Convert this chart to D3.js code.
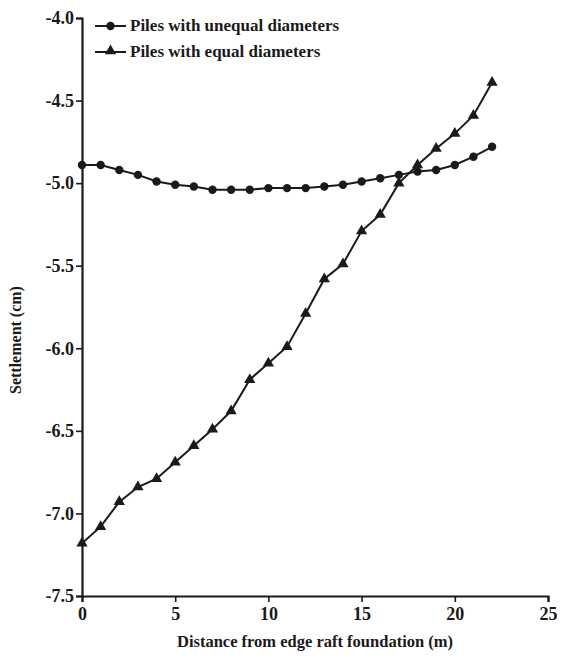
<!DOCTYPE html>
<html>
<head>
<meta charset="utf-8">
<script src="https://cdn.jsdelivr.net/npm/d3@7"></script>
<style>
  body { margin: 0; background: #fff; }
  svg text { font-family: "Liberation Serif" !important; }
</style>
</head>
<body>
<div id="chart"></div>
<script>
// Data
const distance = d3.range(0, 23);
const unequal = [-4.89, -4.89, -4.92, -4.95, -4.99, -5.01, -5.02, -5.04, -5.04, -5.04, -5.03, -5.03,
                 -5.03, -5.02, -5.01, -4.99, -4.97, -4.95, -4.93, -4.92, -4.89, -4.84, -4.78];
const equal = [-7.18, -7.08, -6.93, -6.84, -6.79, -6.69, -6.59, -6.49, -6.38, -6.19, -6.09, -5.99,
               -5.79, -5.58, -5.49, -5.29, -5.19, -5.00, -4.89, -4.79, -4.70, -4.59, -4.39];
const xTicks = [0, 5, 10, 15, 20, 25];
const yTicks = [-4.0, -4.5, -5.0, -5.5, -6.0, -6.5, -7.0, -7.5];
const seriesNames = ["Piles with unequal diameters", "Piles with equal diameters"];

const W = 563, H = 658;
const margin = { top: 18, left: 82 };
const ink = "#1a1a1a";

const svg = d3.select("#chart").append("svg")
  .attr("width", W).attr("height", H)
  .attr("font-family", "Liberation Serif");

const g = svg.append("g")
  .attr("transform", "translate(" + margin.left + "," + margin.top + ")");

const x = d3.scaleLinear().domain([0, 25]).range([0, 466]);
const y = d3.scaleLinear().domain([-7.5, -4.0]).range([578, 0]);

// axes
const xAxis = g.append("g")
  .attr("transform", "translate(0," + y(-7.5) + ")")
  .call(d3.axisBottom(x).tickValues(xTicks).tickFormat(d3.format("d")).tickSizeOuter(0).tickSize(6));
const yAxis = g.append("g")
  .call(d3.axisLeft(y).tickValues(yTicks).tickFormat(d => d3.format(".1f")(d).replace("−", "-")).tickSizeOuter(0).tickSize(6));

[xAxis, yAxis].forEach(a => {
  a.attr("font-family", "Liberation Serif").attr("font-size", null);
  a.select(".domain").attr("stroke", ink).attr("stroke-width", 2.2);
  a.selectAll(".tick line").attr("stroke", ink).attr("stroke-width", 1.6);
  a.selectAll(".tick text")
    .style("font-size", "18px")
    .style("font-weight", "bold")
    .attr("fill", ink);
});
xAxis.selectAll(".tick text").attr("dy", "0.85em");
yAxis.selectAll(".tick text").attr("x", -8).attr("dy", "0.32em");

// axis titles
svg.append("text")
  .attr("x", margin.left + x(12.5)).attr("y", 647)
  .attr("text-anchor", "middle")
  .style("font-size", "16.5px").style("font-weight", "bold")
  .text("Distance from edge raft foundation (m)");
svg.append("text")
  .attr("transform", "translate(21," + (margin.top + y(-5.95)) + ") rotate(-90)")
  .attr("text-anchor", "middle")
  .style("font-size", "16px").style("font-weight", "bold")
  .text("Settlement (cm)");

// lines
const line = d3.line().x((d, i) => x(distance[i])).y(d => y(d));
const tri = d3.symbol().type(d3.symbolTriangle).size(55);

g.append("path").datum(unequal)
  .attr("d", line).attr("fill", "none").attr("stroke", ink).attr("stroke-width", 2);
g.append("path").datum(equal)
  .attr("d", line).attr("fill", "none").attr("stroke", ink).attr("stroke-width", 2);

g.selectAll(".dot").data(unequal).enter().append("circle")
  .attr("class", "dot")
  .attr("cx", (d, i) => x(distance[i])).attr("cy", d => y(d))
  .attr("r", 4.2).attr("fill", ink);

g.selectAll(".tri").data(equal).enter().append("path")
  .attr("class", "tri")
  .attr("transform", (d, i) => "translate(" + x(distance[i]) + "," + y(d) + ")")
  .attr("d", tri).attr("fill", ink);

// legend
const legend = svg.append("g").attr("transform", "translate(95,26)");
seriesNames.forEach((name, i) => {
  const row = legend.append("g").attr("transform", "translate(0," + (i * 26) + ")");
  row.append("line").attr("x1", 0).attr("x2", 31).attr("y1", 0).attr("y2", 0)
    .attr("stroke", ink).attr("stroke-width", 2);
  if (i === 0) {
    row.append("circle").attr("cx", 15.5).attr("cy", 0).attr("r", 4.2).attr("fill", ink);
  } else {
    row.append("path").attr("transform", "translate(15.5,-1)").attr("d", tri).attr("fill", ink);
  }
  row.append("text").attr("x", 35).attr("y", 5)
    .style("font-size", "17px").style("font-weight", "bold")
    .text(name);
});

svg.selectAll("text").style("font-family", "'Liberation Serif'").attr("fill", ink);
</script>
</body>
</html>
